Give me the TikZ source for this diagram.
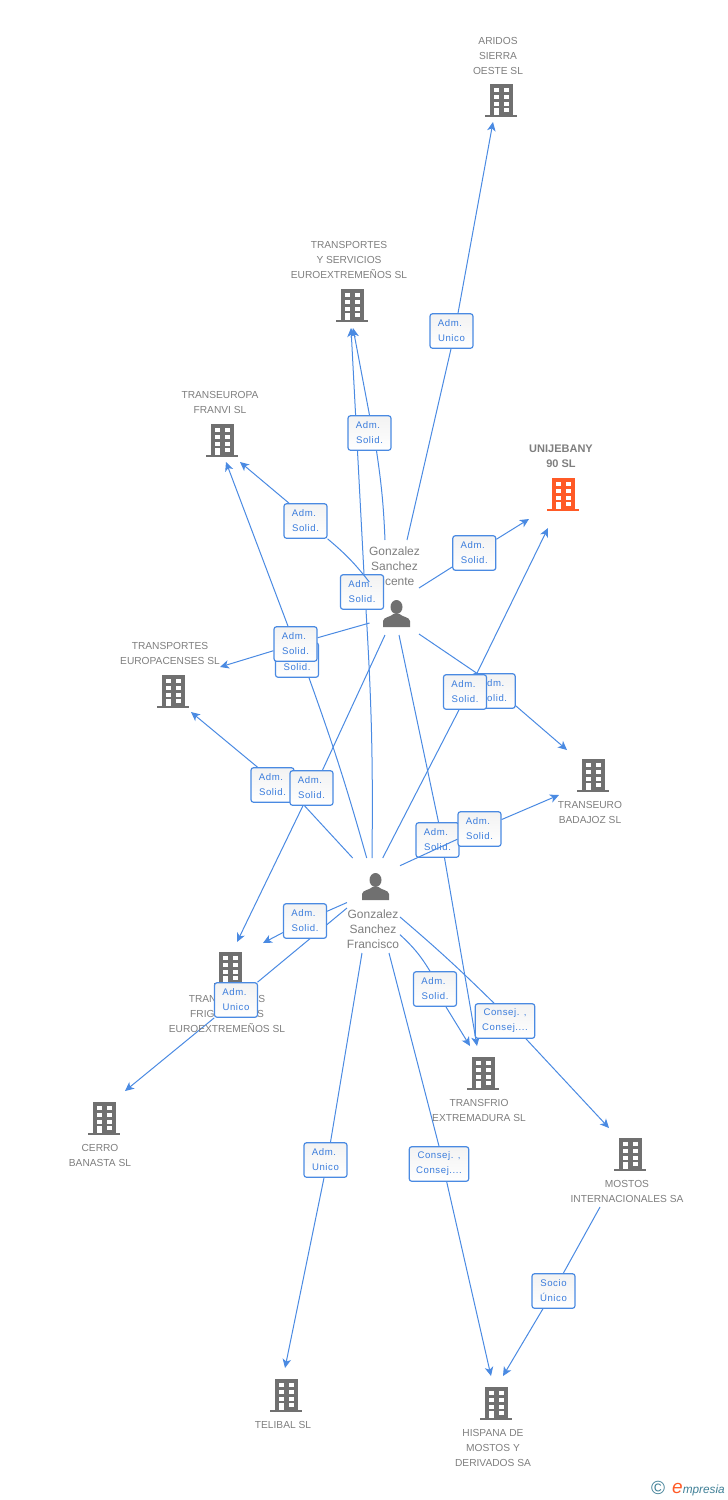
\documentclass[tikz,border=0pt]{standalone}
\usepackage{fontspec}
\setmainfont{Liberation Sans}
\newfontfamily\cargofont[LetterSpace=6]{Liberation Sans}
\usetikzlibrary{arrows.meta,backgrounds}
\definecolor{enlace}{HTML}{4A8AE2}
\definecolor{cargotxt}{HTML}{3A7CDC}
\definecolor{gris}{HTML}{707070}
\definecolor{grisclaro}{HTML}{7E7E7E}
\definecolor{naranja}{HTML}{FF5A26}
\definecolor{marca}{HTML}{3F7F96}
\newcommand{\adm}{Adm.\kern3pt}
\tikzset{
	building/.pic={
		\fill[#1] (-11.5,-16) rectangle (11.5,15);
		\fill[#1] (-16,15) rectangle (16,17);
		\foreach \wy in {-12,-5,1.5} {
			\fill[white] (-7.5,\wy) rectangle (-2.5,\wy+4);
			\fill[white] (2.5,\wy) rectangle (7.5,\wy+4);
		}
		\fill[white] (-7.5,8) rectangle (-2.5,15);
		\fill[white] (2.5,8) rectangle (7.5,12);
	},
	person/.pic={
		\fill[gris] (0,-7) ellipse (6 and 7);
		\fill[gris] (-13.5,13) -- (-13.5,7) .. controls (-13,3) and (-6,3) .. (-3,0) -- (3,0) .. controls (6,3) and (13,3) .. (13.5,7) -- (13.5,13) -- cycle;
	},
	empresa/.style={text=grisclaro,align=center,inner sep=0pt,yshift=-0.8pt,font=\fontsize{10.2}{15}\selectfont},
	nombre/.style={text=grisclaro,align=center,inner sep=0pt,font=\fontsize{12}{15}\selectfont},
	cargo/.style={draw=enlace,line width=1.2pt,rounded corners=2.5pt,top color=black!5,middle color=white,bottom color=white,
		text=cargotxt,align=center,inner sep=0pt,minimum width=43,minimum height=34.5,
		execute at begin node={\rule{0pt}{9pt}},
		font=\cargofont\fontsize{9.6}{15}\selectfont},
	cargoancho/.style={cargo,minimum width=59.5},
	enlaceb/.style={draw=enlace,line width=1pt},
	punta/.style={-{Stealth[length=9pt,width=8.5pt,inset=2.5pt]}},
}
\begin{document}
\begin{tikzpicture}[x=1pt,y=-1pt]
	\useasboundingbox (0,0) rectangle (728,1500);

	% empresas
	\pic at (501,100) {building=gris};
	\pic at (352,305) {building=gris};
	\pic at (222,440) {building=gris};
	\pic at (563,494) {building=naranja};
	\pic at (173,691) {building=gris};
	\pic at (593,775) {building=gris};
	\pic at (230,968) {building=gris};
	\pic at (483,1073) {building=gris};
	\pic at (104,1118) {building=gris};
	\pic at (630,1154) {building=gris};
	\pic at (286,1395) {building=gris};
	\pic at (496,1403) {building=gris};

	\node[empresa] (aridos) at (498,55) {ARIDOS\\SIERRA\\OESTE SL};
	\node[empresa] (tyserv) at (349,259) {TRANSPORTES\\Y SERVICIOS\\EUROEXTREMEÑOS SL};
	\node[empresa] (franvi) at (220,401.5) {TRANSEUROPA\\FRANVI SL};
	\node[empresa,font=\bfseries\fontsize{11}{15}\selectfont] (unije) at (561,455.5) {UNIJEBANY\\90 SL};
	\node[empresa] (europa) at (170,652.5) {TRANSPORTES\\EUROPACENSES SL};
	\node[empresa] (badajoz) at (590,811.5) {TRANSEURO\\BADAJOZ SL};
	\node[empresa] (frigo) at (227,1013) {TRANSPORTES\\FRIGORIFICOS\\EUROEXTREMEÑOS SL};
	\node[empresa] (frio) at (479,1109.5) {TRANSFRIO\\EXTREMADURA SL};
	\node[empresa] (cerro) at (100,1154.5) {CERRO\\BANASTA SL};
	\node[empresa] (mostos) at (627,1190.5) {MOSTOS\\INTERNACIONALES SA};
	\node[empresa] (telibal) at (283,1424) {TELIBAL SL};
	\node[empresa] (hispana) at (493,1447) {HISPANA DE\\MOSTOS Y\\DERIVADOS SA};

	% personas
	\pic at (396.5,614) {person};
	\pic at (375.5,887) {person};
	\node[nombre] (vicente) at (394.5,566) {Gonzalez\\Sanchez\\Vicente};
	\node[nombre] (francisco) at (373,929) {Gonzalez\\Sanchez\\Francisco};

	% cargos
	\node[cargo] (cAridos) at (451.5,331) {\adm\\Unico};
	\node[cargo] (cTyserv) at (369.5,433) {\adm\\Solid.};
	\node[cargo] (cFranvi) at (305.5,521) {\adm\\Solid.};
	\node[cargo] (cTyservF) at (362,592) {\adm\\Solid.};
	\node[cargo] (cUnije) at (474.3,553) {\adm\\Solid.};
	\node[cargo] (cFranviF) at (297,660) {\adm\\Solid.};
	\node[cargo] (cEuropa) at (295.5,644) {\adm\\Solid.};
	\node[cargo] (cBadajoz) at (493.7,691) {\adm\\Solid.};
	\node[cargo] (cUnijeF) at (465,692) {\adm\\Solid.};
	\node[cargo] (cEuropaF) at (272.5,785) {\adm\\Solid.};
	\node[cargo] (cFrigo) at (311.5,788) {\adm\\Solid.};
	\node[cargo] (cFrio) at (437.5,840) {\adm\\Solid.};
	\node[cargo] (cBadajozF) at (479.5,829) {\adm\\Solid.};
	\node[cargo] (cFrigoF) at (305,921) {\adm\\Solid.};
	\node[cargo] (cCerro) at (236,1000) {\adm\\Unico};
	\node[cargo] (cFrioF) at (435,989) {\adm\\Solid.};
	\node[cargoancho] (cMostos) at (505,1021) {Consej. ,\\Consej....};
	\node[cargo] (cTelibal) at (325.5,1160) {\adm\\Unico};
	\node[cargoancho] (cHispana) at (439,1164) {Consej. ,\\Consej....};
	\node[cargo] (cSocio) at (553.5,1291) {Socio\\Único};

	% salidas
	\coordinate (v1) at (407,540);
	\coordinate (v2) at (385,540);
	\coordinate (v3) at (369.3,582);
	\coordinate (v4) at (419,588);
	\coordinate (v5) at (369.5,623);
	\coordinate (v6) at (419,634);
	\coordinate (v7) at (399,635);
	\coordinate (v8) at (385,635);
	\coordinate (f1) at (372,858);
	\coordinate (f2) at (366.7,858);
	\coordinate (f3) at (382.7,858);
	\coordinate (f4) at (352.7,858);
	\coordinate (f5) at (400,865.7);
	\coordinate (f6) at (347,902.5);
	\coordinate (f7) at (347,908);
	\coordinate (f8) at (400,934.7);
	\coordinate (f9) at (400,917);
	\coordinate (f10) at (362,953);
	\coordinate (f11) at (389,953);
	\coordinate (m1) at (600,1207);

	% llegadas
	\coordinate (tAridos) at (493,122);
	\coordinate (tTyserv) at (353,328);
	\coordinate (tTyservF) at (351,328);
	\coordinate (tFranvi) at (240,462);
	\coordinate (tFranviF) at (226,462);
	\coordinate (tUnije) at (529,519);
	\coordinate (tUnijeF) at (548,528);
	\coordinate (tEuropa) at (220,667);
	\coordinate (tEuropaF) at (191,712);
	\coordinate (tBadajoz) at (567,750);
	\coordinate (tBadajozF) at (559,795);
	\coordinate (tFrigo) at (237,942);
	\coordinate (tFrigoF) at (263,943);
	\coordinate (tFrio) at (477,1046);
	\coordinate (tFrioF) at (470,1046);
	\coordinate (tCerro) at (125,1091);
	\coordinate (tMostos) at (609,1128);
	\coordinate (tTelibal) at (285,1368);
	\coordinate (tHispana) at (491,1376);
	\coordinate (tHispanaM) at (503,1376);

	\begin{scope}[on background layer]
		\draw[enlaceb] (v1) -- ([xshift=-0.5pt]cAridos.south);
		\draw[enlaceb,punta] ([xshift=6.5pt]cAridos.north) -- (tAridos);
		\draw[enlaceb] (v2) to[bend right=3] ([xshift=7pt]cTyserv.south);
		\draw[enlaceb,punta] (cTyserv.north) -- (tTyserv);
		\draw[enlaceb,punta] ([xshift=-16.5pt]cFranvi.north) -- (tFranvi);
		\draw[enlaceb] (v4) -- (cUnije);
		\draw[enlaceb,punta] (cUnije) -- (tUnije);
		\draw[enlaceb] (v5) -- (cEuropa);
		\draw[enlaceb,punta] (cEuropa) -- (tEuropa);
		\draw[enlaceb] (v6) -- ([xshift=-17pt]cBadajoz.north);
		\draw[enlaceb,punta] ([yshift=3pt]cBadajoz.south east) -- (tBadajoz);
		\draw[enlaceb] (v7) -- ([xshift=1pt]cFrio.north);
		\draw[enlaceb,punta] ([xshift=7pt]cFrio.south) -- (tFrio);
		\draw[enlaceb] (v8) -- ([xshift=11pt]cFrigo.north);
		\draw[enlaceb,punta] (cFrigo) -- (tFrigo);

		\draw[enlaceb] (f1) to[bend right=2] ([xshift=4pt]cTyservF.south);
		\draw[enlaceb,punta] ([xshift=2pt]cTyservF.north) -- (tTyservF);
		\draw[enlaceb] (f2) to[bend right=2] ([xshift=12pt]cFranviF.south);
		\draw[enlaceb,punta] ([xshift=-9pt,yshift=16pt]cFranviF.north) -- (tFranviF);
		\draw[enlaceb] (f3) -- ([xshift=-6pt]cUnijeF.south);
		\draw[enlaceb,punta] ([xshift=11.5pt]cUnijeF.north) -- (tUnijeF);
		\draw[enlaceb] (f4) -- ([xshift=10pt,yshift=-3pt]cEuropaF.south east);
		\draw[enlaceb,punta] ([xshift=-15pt]cEuropaF.north) -- (tEuropaF);
		\draw[enlaceb,punta] (cBadajozF) -- (tBadajozF);
		\draw[enlaceb] (f6) -- (cFrigoF);
		\draw[enlaceb,punta] (cFrigoF) -- (tFrigoF);
		\draw[enlaceb] (f7) -- (cCerro);
		\draw[enlaceb,punta] (cCerro) -- (tCerro);
		\draw[enlaceb] (f8) to[bend left=8] ([xshift=-5pt]cFrioF.north);
		\draw[enlaceb,punta] (cFrioF) -- (tFrioF);
		\draw[enlaceb] (f9) to[bend left=2] ([xshift=-11pt]cMostos.north);
		\draw[enlaceb,punta] ([xshift=21pt]cMostos.south) -- (tMostos);
		\draw[enlaceb] (f10) -- ([xshift=5pt]cTelibal.north);
		\draw[enlaceb,punta] ([xshift=-1.5pt]cTelibal.south) -- (tTelibal);
		\draw[enlaceb] (f11) -- (cHispana.north);
		\draw[enlaceb,punta] ([xshift=7.7pt]cHispana.south) -- (tHispana);
		\draw[enlaceb] (m1) -- (cSocio);
		\draw[enlaceb,punta] (cSocio) -- (tHispanaM);
	\end{scope}

	% estas dos pasan por encima de otro cargo
	\draw[enlaceb] (v3) to[bend right=6] (cFranvi.south east);
	\draw[enlaceb] (f5) -- (cBadajozF);

	% marca
	\node[inner sep=0pt,text=marca,font=\fontsize{19}{19}\selectfont] (copy) at (658,1488) {©};
	\node[inner sep=0pt,anchor=base west,text=marca,font=\itshape\fontsize{11.8}{15}\selectfont] (empresia) at (672,1493) {{\color{naranja}\fontsize{19}{15}\selectfont e}mpresia};
\end{tikzpicture}
\end{document}
